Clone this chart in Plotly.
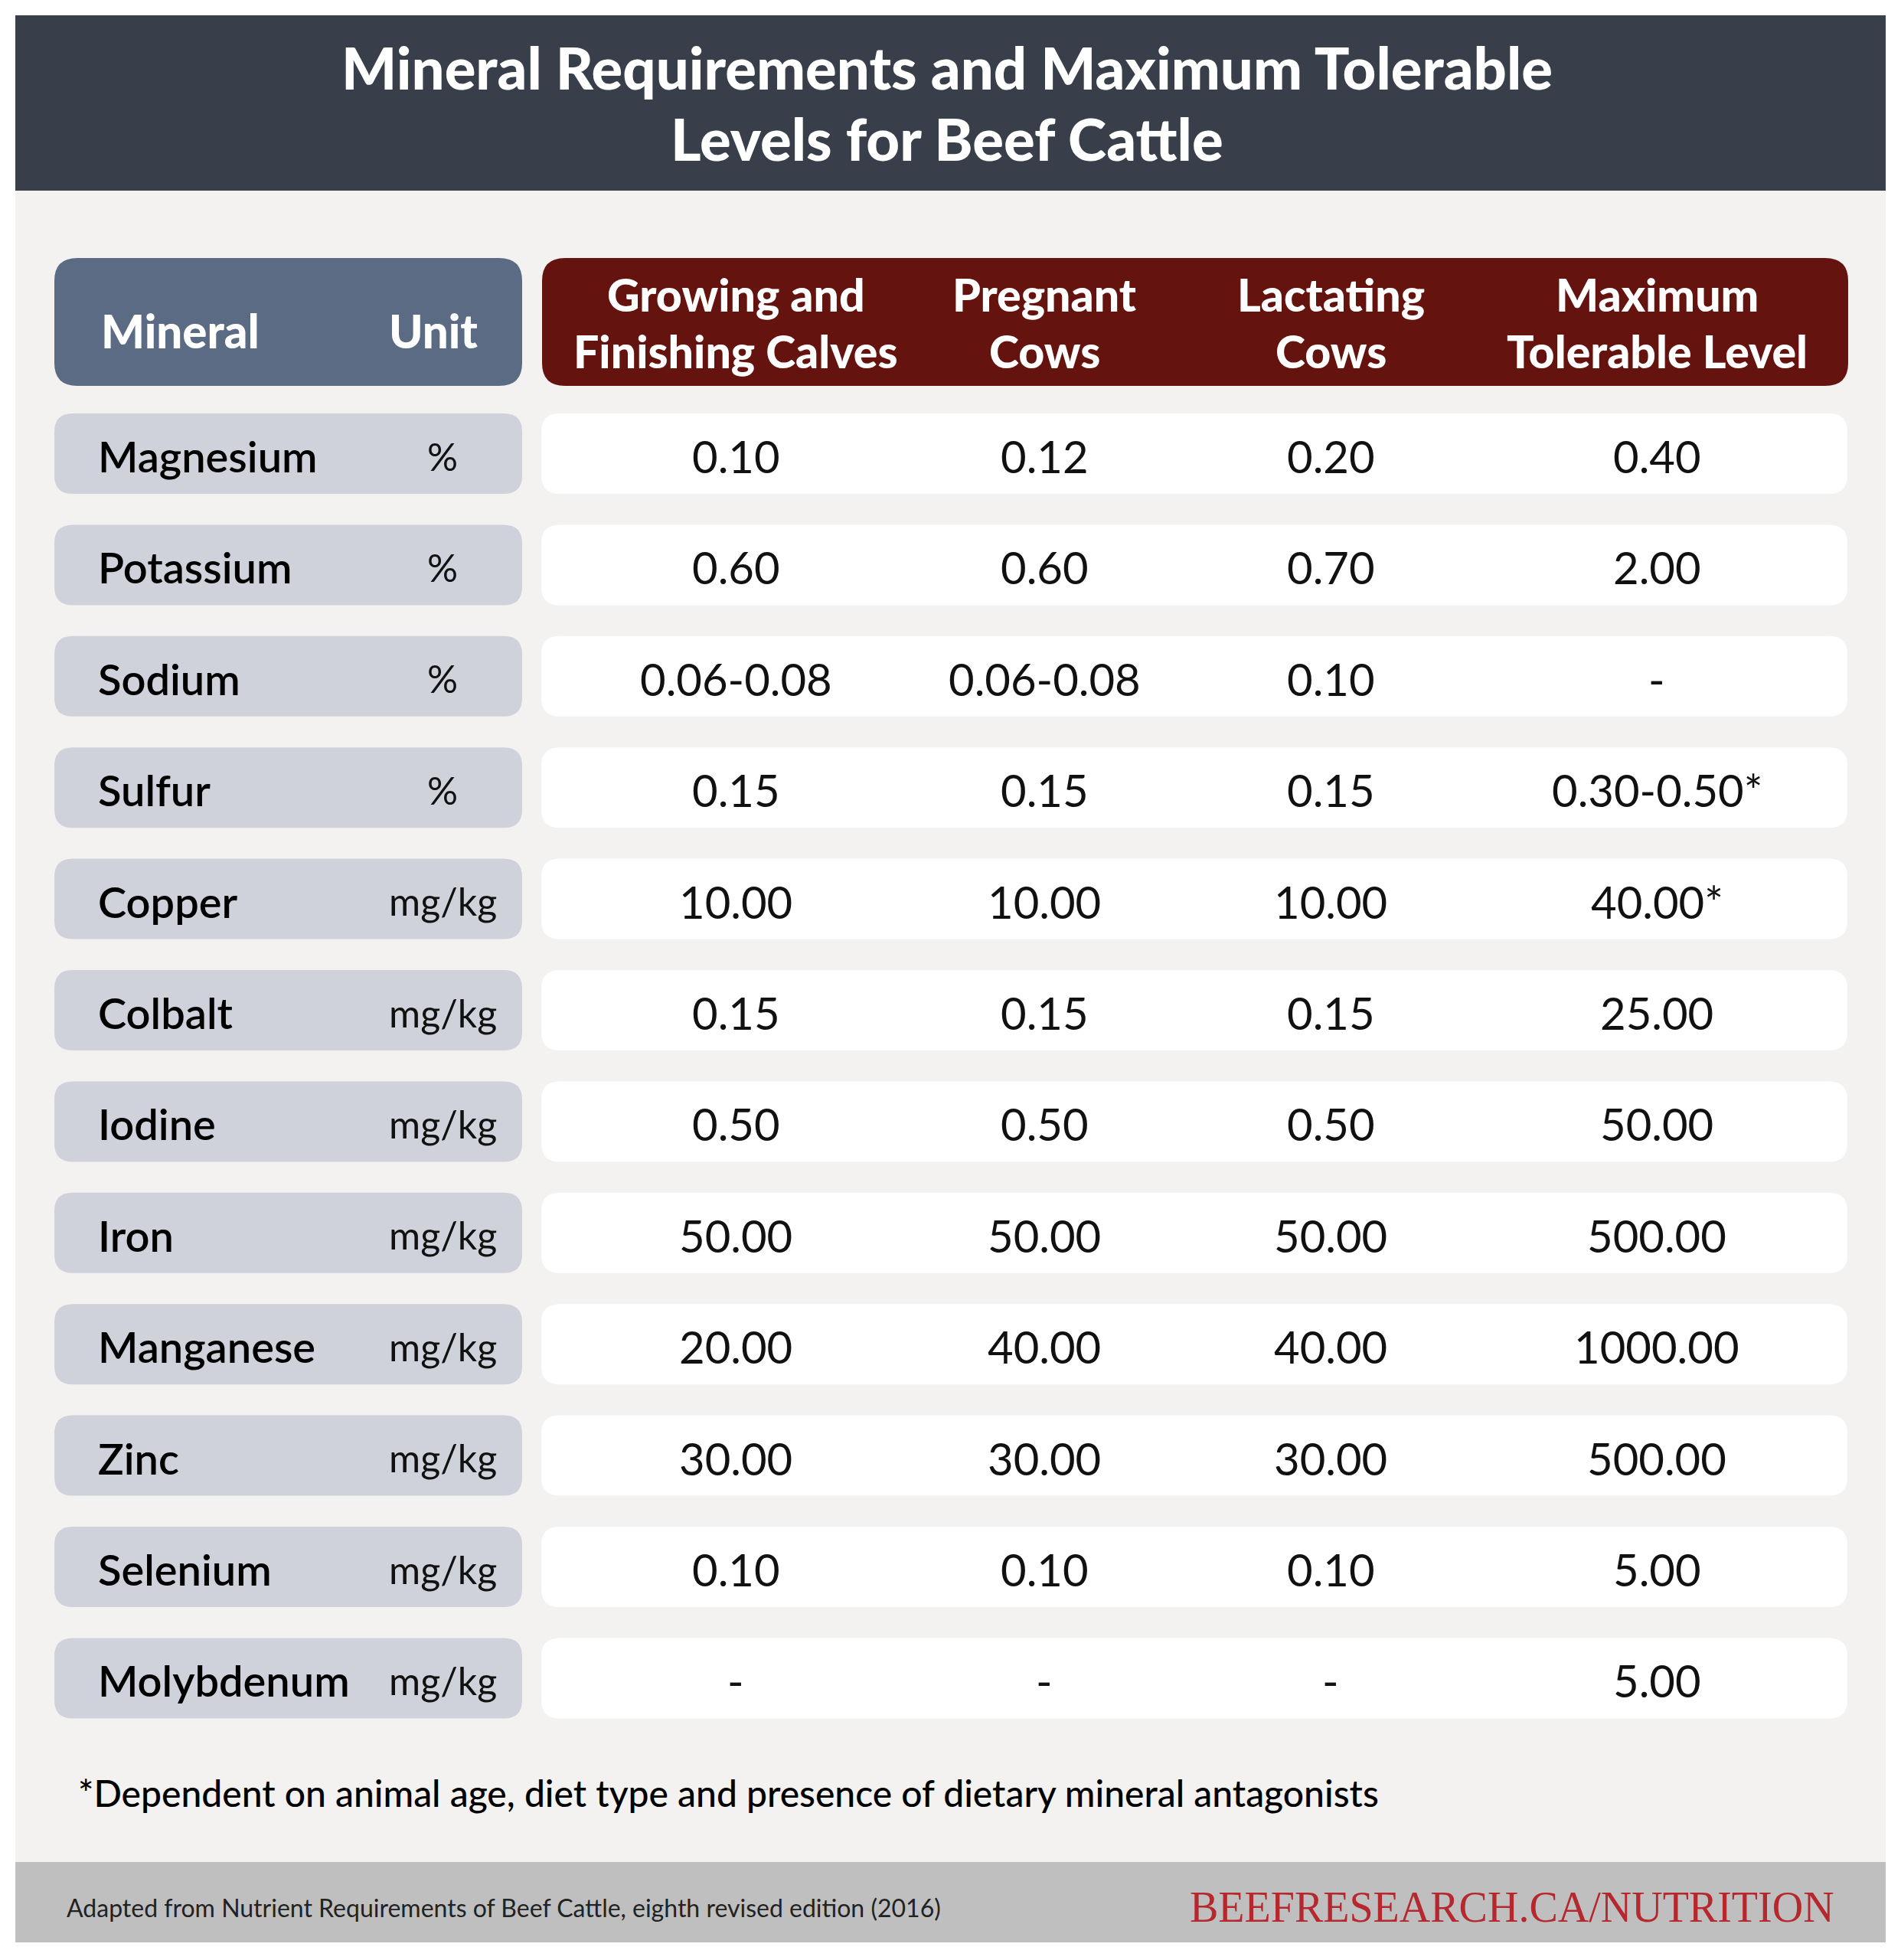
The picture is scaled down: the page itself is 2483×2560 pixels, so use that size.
import plotly.graph_objects as go

# ---------------- data ----------------
title_lines = ["Mineral Requirements and Maximum Tolerable", "Levels for Beef Cattle"]
header_left = ["Mineral", "Unit"]
header_cols = [["Growing and", "Finishing Calves"], ["Pregnant", "Cows"],
               ["Lactating", "Cows"], ["Maximum", "Tolerable Level"]]
minerals = ["Magnesium", "Potassium", "Sodium", "Sulfur", "Copper", "Colbalt",
            "Iodine", "Iron", "Manganese", "Zinc", "Selenium", "Molybdenum"]
units = ["%", "%", "%", "%", "mg/kg", "mg/kg", "mg/kg", "mg/kg", "mg/kg", "mg/kg", "mg/kg", "mg/kg"]
growing = ["0.10", "0.60", "0.06-0.08", "0.15", "10.00", "0.15", "0.50", "50.00", "20.00", "30.00", "0.10", "-"]
pregnant = ["0.12", "0.60", "0.06-0.08", "0.15", "10.00", "0.15", "0.50", "50.00", "40.00", "30.00", "0.10", "-"]
lactating = ["0.20", "0.70", "0.10", "0.15", "10.00", "0.15", "0.50", "50.00", "40.00", "30.00", "0.10", "-"]
max_tol = ["0.40", "2.00", "-", "0.30-0.50*", "40.00*", "25.00", "50.00", "500.00", "1000.00", "500.00", "5.00", "5.00"]
footnote = "*Dependent on animal age, diet type and presence of dietary mineral antagonists"
source = "Adapted from Nutrient Requirements of Beef Cattle, eighth revised edition (2016)"
brand = "BEEFRESEARCH.CA/NUTRITION"

# ---------------- layout constants ----------------
W, H = 2483, 2560
OFF = 8  # compensate for the page's default body margin
FONT = "Lato"
C_TITLE = "#393F4A"
C_BODY = "#F3F2F0"
C_SLATE = "#5B6B84"
C_RED = "#65130F"
C_GRAY = "#CFD2DA"
C_FOOT = "#BFBFBF"
C_BRAND = "#B5292E"

ROW_TOP0, ROW_PITCH, ROW_H = 540, 145.4, 105
LX0, LX1 = 71, 682
RX0, RX1 = 707, 2413
COL_X = [961, 1364, 1738, 2164]
NAME_X, UNIT_X = 126, 578


def rrect(x0, y0, x1, y1, r, color):
    path = (f"M {x0+r},{y0} L {x1-r},{y0} Q {x1},{y0} {x1},{y0+r} "
            f"L {x1},{y1-r} Q {x1},{y1} {x1-r},{y1} L {x0+r},{y1} "
            f"Q {x0},{y1} {x0},{y1-r} L {x0},{y0+r} Q {x0},{y0} {x0+r},{y0} Z")
    return dict(type="path", path=path, xref="x", yref="y", fillcolor=color,
                line=dict(width=0), layer="below")


def rect(x0, y0, x1, y1, color):
    return dict(type="rect", x0=x0, y0=y0, x1=x1, y1=y1, xref="x", yref="y",
                fillcolor=color, line=dict(width=0), layer="below")


def text(x, y, s, size, color="black", weight=400, xanchor="center", family=FONT):
    return dict(x=x, y=y, xref="x", yref="y", text=s, showarrow=False,
                xanchor=xanchor, yanchor="middle",
                font=dict(family=family, size=size, color=color, weight=weight))


shapes = [
    rect(20, 20, 2463, 2537, C_BODY),
    rect(20, 20, 2463, 249, C_TITLE),
    rect(20, 2432, 2463, 2537, C_FOOT),
    rrect(LX0, 337, LX1, 504, 30, C_SLATE),
    rrect(RX0 + 1, 337, RX1 + 1, 504, 30, C_RED),
]
annotations = []

# title
annotations.append(text(1237, 87, title_lines[0], 76, "white", 900))
annotations.append(text(1237, 180, title_lines[1], 76, "white", 900))

# header
annotations.append(text(130, 432, header_left[0], 60, "white", 900, "left"))
annotations.append(text(566, 432, header_left[1], 60, "white", 900))
for cx, lines in zip(COL_X, header_cols):
    annotations.append(text(cx, 384, lines[0], 59, "white", 900))
    annotations.append(text(cx, 458, lines[1], 59, "white", 900))

# rows
for i, (m, u) in enumerate(zip(minerals, units)):
    top = ROW_TOP0 + ROW_PITCH * i
    mid = top + ROW_H / 2 + 3
    shapes.append(rrect(LX0, top, LX1, top + ROW_H, 24, C_GRAY))
    shapes.append(rrect(RX0, top, RX1, top + ROW_H, 24, "white"))
    annotations.append(text(NAME_X, mid, m, 56, "black", 600, "left"))
    annotations.append(text(UNIT_X, mid, u, 50, "#111111", 400))
    for cx, col in zip(COL_X, [growing, pregnant, lactating, max_tol]):
        annotations.append(text(cx, mid, col[i], 58, "#111111", 400))

# footnote & footer
annotations.append(text(100, 2341, footnote, 48, "black", 500, "left"))
annotations.append(text(85, 2491, source, 32, "#222222", 400, "left"))
annotations.append(text(2398, 2491, brand, 56, C_BRAND, 400, "right", "Liberation Serif"))

fig = go.Figure()
fig.update_layout(
    width=W, height=H,
    margin=dict(l=0, r=0, t=0, b=0),
    paper_bgcolor="white", plot_bgcolor="white",
    xaxis=dict(range=[OFF, W + OFF], visible=False, fixedrange=True),
    yaxis=dict(range=[H + OFF, OFF], visible=False, fixedrange=True),
    shapes=shapes, annotations=annotations, showlegend=False,
)
fig.write_html("out.html")
